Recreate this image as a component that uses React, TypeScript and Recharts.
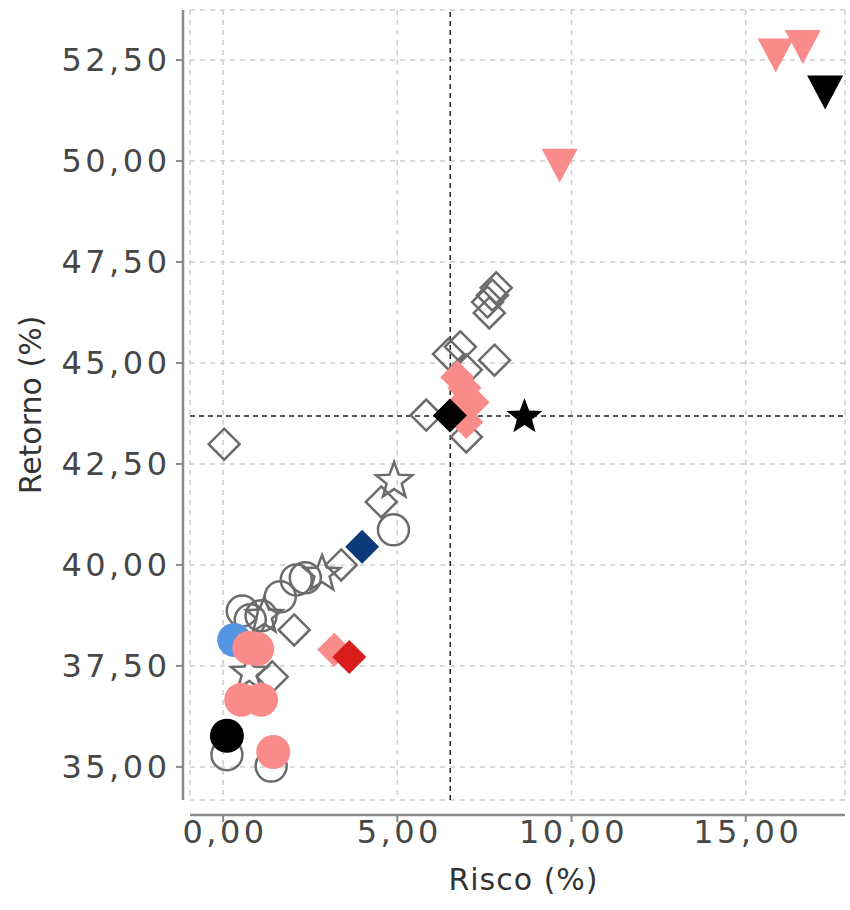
import { CartesianGrid, ReferenceLine, Scatter, ScatterChart, XAxis, YAxis } from "recharts";

// risco (x) / retorno (y)
const HOLLOW_DIAMOND_RISK = [7.84, 7.73, 7.59, 7.64, 7.79, 6.47, 6.81, 6.98, 5.83, 6.98, 0.03, 4.54, 3.39, 2.04, 1.41];
const HOLLOW_DIAMOND_RETURN = [46.86, 46.68, 46.51, 46.24, 45.07, 45.22, 45.4, 44.83, 43.71, 43.17, 42.99, 41.56, 40.0, 38.39, 37.23];

const HOLLOW_CIRCLE_RISK = [0.55, 0.78, 1.09, 1.64, 2.1, 2.36, 4.89, 0.11, 1.38];
const HOLLOW_CIRCLE_RETURN = [38.86, 38.64, 38.74, 39.21, 39.63, 39.68, 40.87, 35.3, 35.02];

const HOLLOW_STAR_RISK = [4.91, 2.84, 1.18, 0.75];
const HOLLOW_STAR_RETURN = [42.1, 39.8, 38.76, 37.35];

const BLUE_CIRCLE_RISK = [0.32];
const BLUE_CIRCLE_RETURN = [38.14];

const PINK_CIRCLE_RISK = [0.75, 0.98, 0.52, 1.09, 1.44];
const PINK_CIRCLE_RETURN = [37.95, 37.92, 36.66, 36.66, 35.37];

const PINK_DIAMOND_RISK = [6.72, 6.93, 7.16, 6.7, 6.98, 3.19];
const PINK_DIAMOND_RETURN = [44.65, 44.38, 44.03, 43.84, 43.54, 37.9];

const PINK_TRIANGLE_RISK = [9.66, 15.86, 16.64];
const PINK_TRIANGLE_RETURN = [49.91, 52.64, 52.85];

const RED_DIAMOND_RISK = [3.62];
const RED_DIAMOND_RETURN = [37.72];

const NAVY_DIAMOND_RISK = [3.99];
const NAVY_DIAMOND_RETURN = [40.45];

const BLACK_CIRCLE_RISK = [0.11];
const BLACK_CIRCLE_RETURN = [35.77];

const BLACK_DIAMOND_RISK = [6.51];
const BLACK_DIAMOND_RETURN = [43.7];

const BLACK_STAR_RISK = [8.65];
const BLACK_STAR_RETURN = [43.69];

const BLACK_TRIANGLE_RISK = [17.28];
const BLACK_TRIANGLE_RETURN = [51.72];

const REF_RISK = 6.52;
const REF_RETURN = 43.69;

const X_TICKS = [0, 5, 10, 15];
const Y_TICKS = [35, 37.5, 40, 42.5, 45, 47.5, 50, 52.5];

const GREY = "#6b6b6b";
const PINK = "#f98b8b";
const RED = "#d91c1c";
const NAVY = "#0d3b7a";
const BLUE = "#5596e3";
const BLACK = "#000000";
const FONT = "'DejaVu Sans', sans-serif";

type Pt = { x: number; y: number };
const zip = (xs: number[], ys: number[]): Pt[] => xs.map((x, i) => ({ x, y: ys[i] }));
const fmt = (v: number) => v.toFixed(2).replace(".", ",");

type Kind = "circle" | "diamond" | "star" | "triangle";

function starPath(cx: number, cy: number, R: number, r: number) {
  let d = "";
  for (let i = 0; i < 10; i++) {
    const rad = i % 2 === 0 ? R : r;
    const a = -Math.PI / 2 + (i * Math.PI) / 5;
    d += `${i === 0 ? "M" : "L"}${cx + rad * Math.cos(a)},${cy + rad * Math.sin(a)}`;
  }
  return d + "Z";
}

function makeShape(kind: Kind, color: string, hollow: boolean) {
  const paint = hollow
    ? { fill: "none", stroke: color, strokeWidth: 2.5 }
    : { fill: color, stroke: "none" };
  return (props: any) => {
    const { cx, cy } = props;
    if (cx == null || cy == null) return <g />;
    if (kind === "circle") return <circle cx={cx} cy={cy} r={hollow ? 15.5 : 17} {...paint} />;
    if (kind === "diamond") {
      const h = hollow ? 15.5 : 17;
      return <path d={`M${cx},${cy - h}L${cx + h},${cy}L${cx},${cy + h}L${cx - h},${cy}Z`} {...paint} />;
    }
    if (kind === "star") return <path d={starPath(cx, cy + 1, 19, 8)} {...paint} strokeLinejoin="miter" />;
    const w = 18;
    const h = 16;
    return <path d={`M${cx - w},${cy - h}L${cx + w},${cy - h}L${cx},${cy + h + 2}Z`} {...paint} />;
  };
}

const SERIES: { name: string; data: Pt[]; kind: Kind; color: string; hollow: boolean }[] = [
  { name: "hollowDiamond", data: zip(HOLLOW_DIAMOND_RISK, HOLLOW_DIAMOND_RETURN), kind: "diamond", color: GREY, hollow: true },
  { name: "hollowCircle", data: zip(HOLLOW_CIRCLE_RISK, HOLLOW_CIRCLE_RETURN), kind: "circle", color: GREY, hollow: true },
  { name: "hollowStar", data: zip(HOLLOW_STAR_RISK, HOLLOW_STAR_RETURN), kind: "star", color: GREY, hollow: true },
  { name: "blueCircle", data: zip(BLUE_CIRCLE_RISK, BLUE_CIRCLE_RETURN), kind: "circle", color: BLUE, hollow: false },
  { name: "pinkCircle", data: zip(PINK_CIRCLE_RISK, PINK_CIRCLE_RETURN), kind: "circle", color: PINK, hollow: false },
  { name: "pinkDiamond", data: zip(PINK_DIAMOND_RISK, PINK_DIAMOND_RETURN), kind: "diamond", color: PINK, hollow: false },
  { name: "pinkTriangle", data: zip(PINK_TRIANGLE_RISK, PINK_TRIANGLE_RETURN), kind: "triangle", color: PINK, hollow: false },
  { name: "redDiamond", data: zip(RED_DIAMOND_RISK, RED_DIAMOND_RETURN), kind: "diamond", color: RED, hollow: false },
  { name: "navyDiamond", data: zip(NAVY_DIAMOND_RISK, NAVY_DIAMOND_RETURN), kind: "diamond", color: NAVY, hollow: false },
  { name: "blackCircle", data: zip(BLACK_CIRCLE_RISK, BLACK_CIRCLE_RETURN), kind: "circle", color: BLACK, hollow: false },
  { name: "blackDiamond", data: zip(BLACK_DIAMOND_RISK, BLACK_DIAMOND_RETURN), kind: "diamond", color: BLACK, hollow: false },
  { name: "blackStar", data: zip(BLACK_STAR_RISK, BLACK_STAR_RETURN), kind: "star", color: BLACK, hollow: false },
  { name: "blackTriangle", data: zip(BLACK_TRIANGLE_RISK, BLACK_TRIANGLE_RETURN), kind: "triangle", color: BLACK, hollow: false },
];

export default function App() {
  return (
    <div style={{ width: 850, height: 910, background: "#fff" }}>
      <style>{`
        body { margin: 0; }
        .recharts-yAxis { transform: translateX(-7px); }
        .recharts-xAxis { transform: translateY(15px); }
      `}</style>
      <ScatterChart width={850} height={910} margin={{ top: 10, right: 5, bottom: 15, left: 30 }}>
        <CartesianGrid stroke="#cdcdcd" strokeWidth={1.5} strokeDasharray="5 5" />
        <XAxis
          type="number"
          dataKey="x"
          domain={[-0.95, 17.85]}
          ticks={X_TICKS}
          tickFormatter={fmt}
          height={95}
          tickSize={7}
          tickMargin={13}
          axisLine={{ stroke: "#8a8a8a", strokeWidth: 2.5 }}
          tickLine={{ stroke: "#8a8a8a", strokeWidth: 2 }}
          tick={{ fill: "#474747", fontSize: 32, fontFamily: FONT, letterSpacing: 3.5, dx: 2 }}
          label={{ value: "Risco (%)", position: "insideBottom", offset: 5, dx: 6, fill: "#333", fontSize: 30, fontFamily: FONT, letterSpacing: 1 }}
        />
        <YAxis
          type="number"
          dataKey="y"
          domain={[34.18, 53.74]}
          ticks={Y_TICKS}
          tickFormatter={fmt}
          width={160}
          tickSize={7}
          tickMargin={12.5}
          axisLine={{ stroke: "#8a8a8a", strokeWidth: 2.5 }}
          tickLine={{ stroke: "#8a8a8a", strokeWidth: 2 }}
          tick={{ fill: "#474747", fontSize: 32, fontFamily: FONT, letterSpacing: 3.5 }}
          label={{
            value: "Retorno (%)",
            position: "insideLeft",
            angle: -90,
            offset: 0,
            fill: "#333",
            fontSize: 30,
            fontFamily: FONT,
            style: { textAnchor: "middle" },
          }}
        />
        <ReferenceLine x={REF_RISK} stroke="#222" strokeWidth={1.5} strokeDasharray="5 4" />
        <ReferenceLine y={REF_RETURN} stroke="#222" strokeWidth={1.5} strokeDasharray="5 4" />
        {SERIES.map((s) => (
          <Scatter
            key={s.name}
            name={s.name}
            data={s.data}
            shape={makeShape(s.kind, s.color, s.hollow)}
            isAnimationActive={false}
          />
        ))}
      </ScatterChart>
    </div>
  );
}
